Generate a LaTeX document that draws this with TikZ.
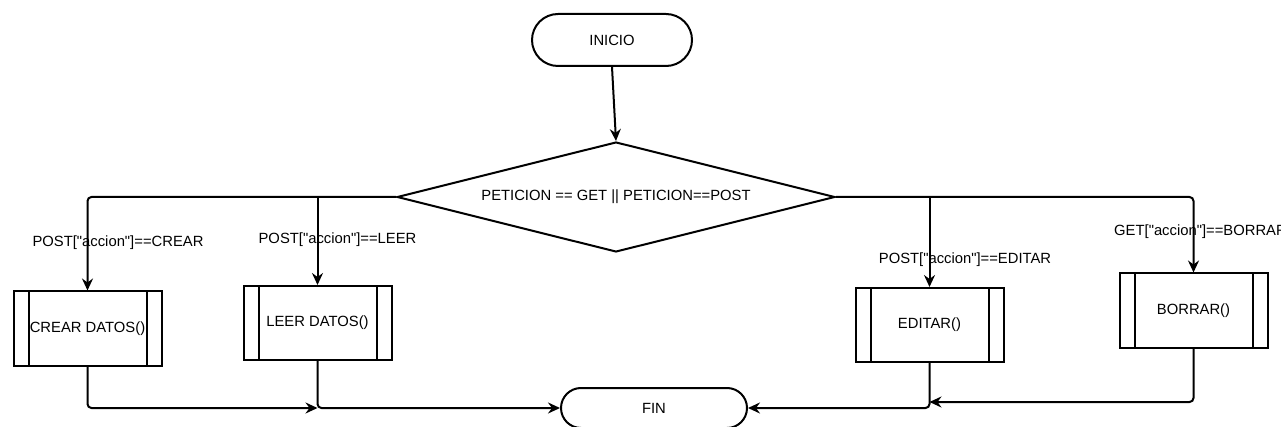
\documentclass[tikz,border=0pt]{standalone}
\usepackage{fontspec}
\newfontfamily\plainsans{Liberation Sans}
\usetikzlibrary{shapes.geometric,arrows.meta}
\begin{document}
\begin{tikzpicture}[x=1pt,y=-1pt,
  font=\plainsans\fontsize{14.8}{17}\selectfont,
  terminal/.style={draw, line width=2pt, inner sep=0pt},
  decision/.style={draw, line width=2pt, diamond, aspect=4, inner sep=0pt, minimum width=438pt, minimum height=110pt},
  proc/.style={draw, line width=2pt, inner sep=0pt, minimum width=148pt, minimum height=74pt,
    path picture={
      \draw[line width=2pt] ([xshift=15pt]path picture bounding box.north west) -- ([xshift=15pt]path picture bounding box.south west);
      \draw[line width=2pt] ([xshift=-15pt]path picture bounding box.north east) -- ([xshift=-15pt]path picture bounding box.south east);
    }},
  flow/.style={line width=2pt, rounded corners=4pt, -{Stealth[length=12pt,width=11pt,inset=4pt]}},
  lbl/.style={inner sep=0pt}]
\useasboundingbox (0,0) rectangle (1281,427);

\node[terminal, rounded corners=26pt, minimum width=160pt, minimum height=52pt] (inicio) at (612,40) {INICIO};
\node[decision] (dec) at (616,197) {PETICION == GET || PETICION==POST};

\node[proc] (crear) at (87.5,328.5) {CREAR DATOS()};
\node[proc] (leer) at (317.5,323) {LEER DATOS()};
\node[proc] (editar) at (929.5,325) {EDITAR()};
\node[proc] (borrar) at (1193.5,310.5) {BORRAR()};

\node[terminal, rounded corners=20pt, minimum width=186pt, minimum height=40pt] (fin) at (654,408) {FIN};

\coordinate (b1) at (leer.north |- dec.west);
\coordinate (b2) at (editar.north |- dec.east);
\coordinate (j1) at (leer.south |- fin.west);
\coordinate (j2) at (929.5,402);

\draw[flow] (inicio.south) -- (dec.north);
\draw[flow] (dec.west) -| (crear.north);
\draw[flow] (b1) -- (leer.north);
\draw[flow] (dec.east) -| (borrar.north);
\draw[flow] (b2) -- (editar.north);

\draw[flow] (crear.south) |- (j1);
\draw[flow] (leer.south) |- (fin.west);
\draw[flow] (editar.south) |- (fin.east);
\draw[flow] (borrar.south) |- (j2);

\node[lbl] (l1) at (118,243) {POST["accion"]==CREAR};
\node[lbl] (l2) at (337.5,240) {POST["accion"]==LEER};
\node[lbl] (l3) at (965,260) {POST["accion"]==EDITAR};
\node[lbl, anchor=west] (l4) at (1114,232) {GET["accion"]==BORRAR};
\end{tikzpicture}
\end{document}
